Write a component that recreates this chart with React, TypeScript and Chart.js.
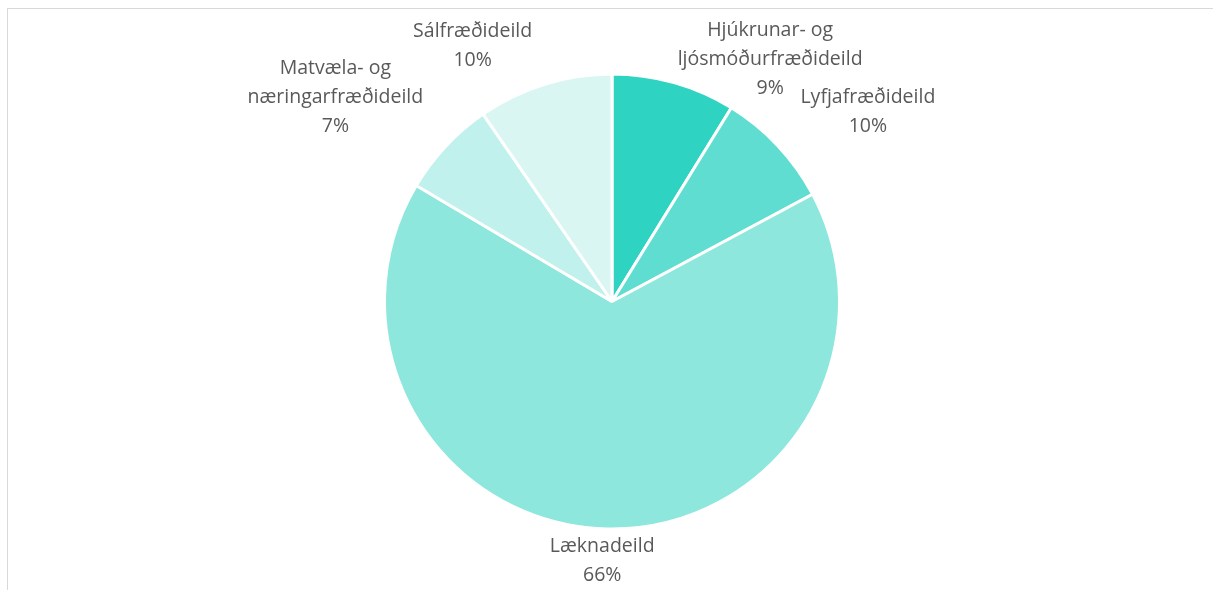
import React, { useEffect, useRef } from "react";
import { Chart, registerables } from "chart.js";

Chart.register(...registerables);

const categories: string[][] = [
  ["Hjúkrunar- og", "ljósmóðurfræðideild"],
  ["Lyfjafræðideild"],
  ["Læknadeild"],
  ["Matvæla- og", "næringarfræðideild"],
  ["Sálfræðideild"],
];
const sliceValues: number[] = [8.8, 8.4, 66.4, 6.9, 9.6];
const percentLabels: string[] = ["9%", "10%", "66%", "7%", "10%"];
const sliceColors: string[] = ["#2ED3C2", "#5FDDD1", "#8DE7DD", "#C0F1EC", "#DAF6F3"];

// label placement relative to each slice: angle offset (deg) from slice middle, distance as multiple of radius
const labelPlacement = [
  { dAngle: 17.3, k: 1.272 },
  { dAngle: 6.7, k: 1.4 },
  { dAngle: 0.9, k: 1.142 },
  { dAngle: -6.7, k: 1.51 },
  { dAngle: -11.35, k: 1.279 },
];

const labelPlugin = {
  id: "outsideLabels",
  afterDraw(chart: any) {
    const ctx = chart.ctx;
    const meta = chart.getDatasetMeta(0);
    ctx.save();
    ctx.font = "19.5px 'Open Sans'";
    ctx.fillStyle = "#595959";
    ctx.textAlign = "center";
    ctx.textBaseline = "middle";
    const lineH = 29;
    meta.data.forEach((arc: any, i: number) => {
      const p = arc.getProps(["x", "y", "startAngle", "endAngle", "outerRadius"], true);
      const mid = (p.startAngle + p.endAngle) / 2 + (labelPlacement[i].dAngle * Math.PI) / 180;
      const r = p.outerRadius * labelPlacement[i].k;
      const cx = p.x + Math.cos(mid) * r;
      const cy = p.y + Math.sin(mid) * r;
      const lines = [...categories[i], percentLabels[i]];
      const top = cy - ((lines.length - 1) * lineH) / 2;
      lines.forEach((t, j) => ctx.fillText(t, cx, top + j * lineH));
    });
    ctx.restore();
  },
};

export default function App() {
  const ref = useRef<HTMLCanvasElement>(null);
  useEffect(() => {
    if (!ref.current) return;
    const chart = new Chart(ref.current, {
      type: "pie",
      data: {
        labels: categories.map((c) => c.join(" ")),
        datasets: [
          {
            data: sliceValues,
            backgroundColor: sliceColors,
            borderColor: "#FFFFFF",
            borderWidth: 3,
            hoverOffset: 0,
          },
        ],
      },
      options: {
        responsive: false,
        animation: false,
        events: [],
        layout: { padding: { top: 72.5, bottom: 59.5, left: 11, right: 0 } },
        plugins: {
          legend: { display: false },
          tooltip: { enabled: false },
        },
      },
      plugins: [labelPlugin],
    });
    return () => chart.destroy();
  }, []);
  return (
    <div style={{ position: "fixed", left: 0, top: 0, width: 1213, height: 590, overflow: "hidden", background: "#fff" }}>
      <div
        style={{
          position: "absolute",
          left: 7,
          top: 8,
          width: 1400,
          height: 800,
          borderLeft: "1px solid #D9D9D9",
          borderTop: "1px solid #D9D9D9",
        }}
      />
      <canvas ref={ref} width={1213} height={590} style={{ position: "absolute", left: 0, top: 0 }} />
    </div>
  );
}
